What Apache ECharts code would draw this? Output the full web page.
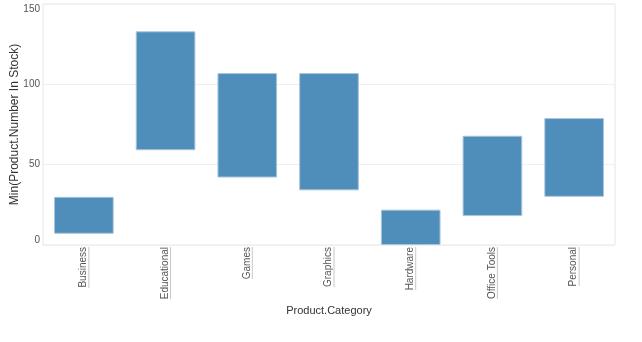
<!DOCTYPE html>
<html>
<head>
<meta charset="utf-8">
<script src="https://cdn.jsdelivr.net/npm/echarts@6/dist/echarts.min.js"></script>
<style>
html,body{margin:0;padding:0;background:#fff;}
#c{width:642px;height:342px;}
</style>
</head>
<body>
<div id="c"></div>
<script>
const categories = ["Business", "Educational", "Games", "Graphics", "Hardware", "Office Tools", "Personal"];
const minValues = [7, 59, 42, 34, 0, 18, 30];
const maxValues = [30, 133, 107, 107, 22, 68, 79];
const yTicks = [0, 50, 100, 150];

const font = '"Liberation Sans", Arial, sans-serif';
const labelSize = 10;
const cv = document.createElement('canvas').getContext('2d');
cv.font = labelSize + 'px "Liberation Sans"';
const rich = {t: {fontFamily: font, fontSize: labelSize, color: '#555', lineHeight: 10}};
categories.forEach((c, i) => {
  rich['u' + i] = {width: Math.round(cv.measureText(c).width), height: 1, lineHeight: 1, backgroundColor: '#c8c8c8'};
});

const chart = echarts.init(document.getElementById('c'), null, {renderer: 'canvas'});
chart.setOption({
  animation: false,
  backgroundColor: '#fff',
  grid: {left: 43, right: 27, top: 4, bottom: 97, show: true, borderColor: '#e6e6e6', borderWidth: 1,
    backgroundColor: 'transparent', outerBoundsMode: 'none', containLabel: false},
  xAxis: {
    type: 'category',
    data: categories,
    name: 'Product.Category',
    nameLocation: 'middle',
    nameGap: 60,
    nameMoveOverlap: false,
    nameTextStyle: {fontFamily: font, fontSize: 11, color: '#333'},
    axisLine: {show: false},
    axisTick: {show: false},
    axisLabel: {
      rotate: 90, fontFamily: font, fontSize: labelSize, color: '#555', margin: 2, interval: 0,
      formatter: (v) => '{t|' + v + '}\n{u' + categories.indexOf(v) + '|}',
      rich: rich
    },
    splitLine: {show: false}
  },
  yAxis: {
    type: 'value',
    min: yTicks[0],
    max: yTicks[yTicks.length - 1],
    interval: 50,
    name: 'Min(Product.Number In Stock)',
    nameLocation: 'middle',
    nameGap: 22,
    nameMoveOverlap: false,
    nameTextStyle: {fontFamily: font, fontSize: 12, color: '#333'},
    axisLine: {show: false},
    axisTick: {show: false},
    axisLabel: {fontFamily: font, fontSize: 10, color: '#555', margin: 3,
      verticalAlignMinLabel: 'bottom', verticalAlignMaxLabel: 'top'},
    splitLine: {show: true, lineStyle: {color: '#efefef', width: 1}}
  },
  series: [
    {
      type: 'bar', stack: 'r', data: minValues, barCategoryGap: '27%',
      itemStyle: {color: 'transparent'}, silent: true
    },
    {
      type: 'bar', stack: 'r', data: maxValues.map((m, i) => m - minValues[i]),
      itemStyle: {color: '#4f8dba', borderColor: '#a8c5dc', borderWidth: 1}
    }
  ]
});
</script>
</body>
</html>
